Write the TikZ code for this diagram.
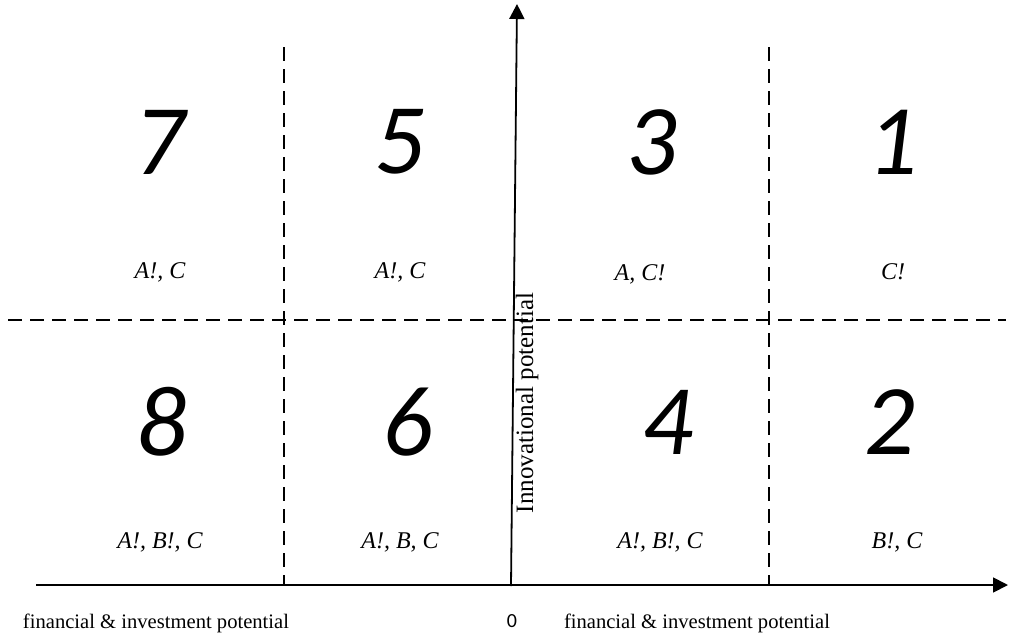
\documentclass[tikz,border=0pt]{standalone}
\usepackage{fontspec}
\setmainfont{Liberation Serif}
\newfontfamily\numfont{Carlito}
\usetikzlibrary{arrows.meta}
\begin{document}
\begin{tikzpicture}[x=1pt,y=-1pt,
  axis/.style={line width=1.8pt,-{Triangle[length=15pt,width=15pt]}},
  dashline/.style={line width=1.3pt,dash pattern=on 14pt off 8pt},
  bignum/.style={font=\numfont\itshape\fontsize{100}{100}\selectfont,inner sep=0pt},
  cell/.style={font=\itshape\fontsize{24}{24}\selectfont,inner sep=0pt},
  lbl/.style={font=\fontsize{20.6}{21}\selectfont,inner sep=0pt}]
\useasboundingbox (0,0) rectangle (1009,637);
% dashed grid
\coordinate (d1t) at (284,47); \coordinate (d1b) at (284,585);
\coordinate (d2t) at (769,47); \coordinate (d2b) at (769,585);
\coordinate (hl) at (8,320); \coordinate (hr) at (1006,320);
\draw[dashline] (d1t) -- (d1b);
\draw[dashline] (d2t) -- (d2b);
\draw[dashline] (hl) -- (hr);
% axes
\coordinate (xs) at (36,585); \coordinate (xe) at (1008,585);
\coordinate (ys) at (511,586); \coordinate (ye) at (517,4);
\draw[axis] (xs) -- (xe);
\draw[axis] (ys) -- (ye);
% numbers
\node[bignum] (n7) at (160,142) {7};
\node[bignum] (n5) at (400,142) {5};
\node[bignum] (n3) at (652,142) {3};
\node[bignum] (n1) at (893,142) {1};
\node[bignum] (n8) at (162,422) {8};
\node[bignum] (n6) at (408,422) {6};
\node[bignum] (n4) at (668,422) {4};
\node[bignum] (n2) at (890,422) {2};
% cell labels
\node[cell] (c7) at (160,272) {A!, C};
\node[cell] (c5) at (400,272) {A!, C};
\node[cell] (c3) at (640,274) {A, C!};
\node[cell] (c1) at (893,272) {C!};
\node[cell] (c8) at (160,542) {A!, B!, C};
\node[cell] (c6) at (400,542) {A!, B, C};
\node[cell] (c4) at (660,542) {A!, B!, C};
\node[cell] (c2) at (897,542) {B!, C};
% axis labels
\node[font=\fontsize{25}{25}\selectfont,inner sep=0pt,rotate=90] (yl) at (527,403) {Innovational potential};
\node[lbl] (xl1) at (156,623) {financial \& investment potential};
\node[lbl] (xl2) at (697,623) {financial \& investment potential};
\node[font=\numfont\fontsize{20}{20}\selectfont,inner sep=0pt] (zero) at (512,621) {0};
\end{tikzpicture}
\end{document}
